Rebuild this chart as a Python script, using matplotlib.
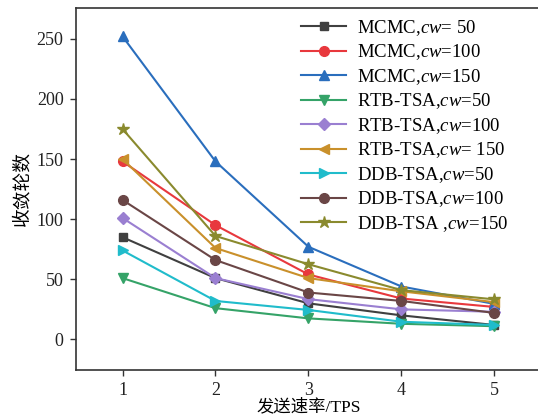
import matplotlib
matplotlib.use("Agg")
import matplotlib.pyplot as plt

plt.rcParams['font.family'] = ['Liberation Serif', 'Noto Sans CJK SC', 'DejaVu Sans']
plt.rcParams['mathtext.fontset'] = 'custom'
plt.rcParams['mathtext.it'] = 'Liberation Serif:italic'
plt.rcParams['mathtext.rm'] = 'Liberation Serif'

x = [1, 2, 3, 4, 5]
labels = ["MCMC,$cw$= 50", "MCMC,$cw$=100", "MCMC,$cw$=150",
          "RTB-TSA,$cw$=50", "RTB-TSA,$cw$=100", "RTB-TSA,$cw$= 150",
          "DDB-TSA,$cw$=50", "DDB-TSA,$cw$=100", "DDB-TSA ,$cw$=150"]
mcmc_50 = [85, 51, 30, 20, 12]
mcmc_100 = [148, 95, 54, 34, 27]
mcmc_150 = [252, 148, 77, 44, 29.5]
rtb_50 = [51, 26, 17.5, 13, 11]
rtb_100 = [101, 51, 33.5, 25, 23]
rtb_150 = [150, 76, 51, 40, 31]
ddb_50 = [74, 32, 24.5, 14.7, 12]
ddb_100 = [116, 66, 39, 32, 22]
ddb_150 = [175, 86, 62.5, 41, 33.3]
series = [mcmc_50, mcmc_100, mcmc_150, rtb_50, rtb_100, rtb_150, ddb_50, ddb_100, ddb_150]
colors = ['#404040', '#e8383d', '#2a6ebd', '#35a368', '#9a7fd1',
          '#c9902b', '#20bccb', '#6a4646', '#8a8a2e']
markers = ['s', 'o', '^', 'v', 'D', '<', '>', 'o', '*']
msizes = [6, 7, 7, 7, 6, 7, 7, 7, 9]

fig = plt.figure(figsize=(5.38, 4.17), dpi=100)
W, H = 538, 417
ax = fig.add_axes([76 / W, 1 - 369.5 / H, (541 - 76) / W, (369.5 - 7.5) / H])

for ys, c, m, ms, lab in zip(series, colors, markers, msizes, labels):
    ax.plot(x, ys, color=c, marker=m, markersize=ms, linewidth=1.5, label=lab)

ax.set_xlim(0.5, 5.5)
ax.set_ylim(-25, 276)
ax.set_xticks(x)
ax.set_yticks([0, 50, 100, 150, 200, 250])
ax.tick_params(direction='out', length=4, width=1, labelsize=13, colors='#333333', pad=5)
ax.tick_params(axis='both', labelcolor='#222222')
ax.spines['right'].set_visible(False)
for s in ['left', 'bottom', 'top']:
    ax.spines[s].set_color('#333333')
    ax.spines[s].set_linewidth(1.2)

ax.set_xlabel('发送速率/TPS', fontsize=12.5, labelpad=0)
ax.set_ylabel('收敛轮数', fontsize=13.5, labelpad=4)

leg = ax.legend(loc='upper left', bbox_to_anchor=((291 - 76) / 465, 1.0), frameon=False,
                fontsize=13.5, handlelength=2.4, handletextpad=0.55, labelspacing=0.25,
                borderaxespad=0.15)

fig.savefig('out.png', dpi=100)
